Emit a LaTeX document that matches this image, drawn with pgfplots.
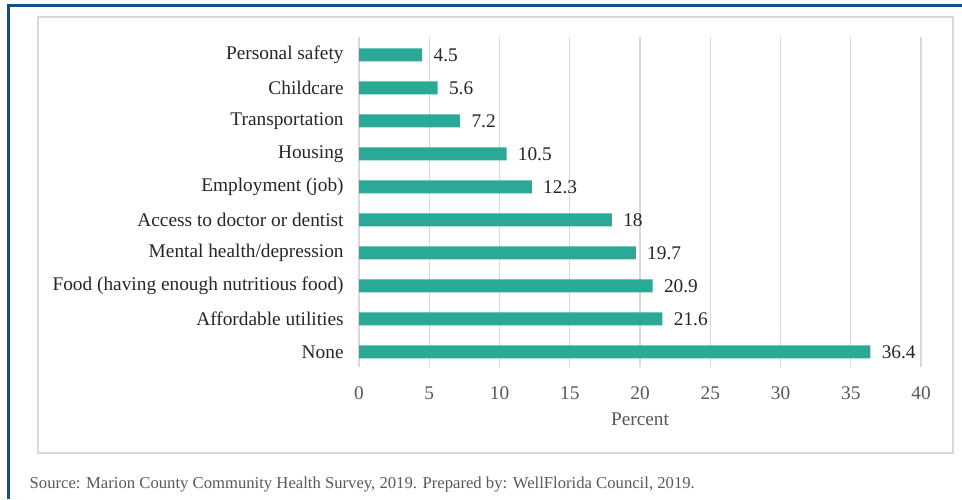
\documentclass[border=0pt]{standalone}
\usepackage{pgfplots}
\pgfplotsset{compat=1.18}
\usepackage{fontspec}
\setmainfont{Liberation Serif}
\definecolor{barteal}{HTML}{2AAA96}
\definecolor{frameblue}{HTML}{0F5189}
\definecolor{gridgray}{HTML}{D9D9D9}
\definecolor{txtgray}{HTML}{595959}
\definecolor{txtdark}{HTML}{262626}
\pgfplotstableread{
idx val
0 36.4
1 21.6
2 20.9
3 19.7
4 18
5 12.3
6 10.5
7 7.2
8 5.6
9 4.5
}\datatab
\begin{document}
\begin{tikzpicture}[x=0.75pt,y=0.75pt]
\path[use as bounding box] (0,0) rectangle (962,499);
\fill[frameblue] (7,492) rectangle (962,495);
\fill[frameblue] (7,0) rectangle (10,495);
\draw[gridgray, line width=1pt] (38,46) rectangle (953,482);
\begin{axis}[
  at={(269.25pt,99pt)}, anchor=south west,
  scale only axis, width=421.5pt, height=247.5pt,
  xbar, bar width=9.75pt,
  xmin=0, xmax=40, ymin=-0.4545, ymax=9.545,
  xtick={0,5,...,40},
  ytick={0,...,9},
  yticklabels={None,Affordable utilities,Food (having enough nutritious food),Mental health/depression,Access to doctor or dentist,Employment (job),Housing,Transportation,Childcare,Personal safety},
  axis line style={draw=none},
  major tick length=0pt,
  xmajorgrids, grid style={gridgray, line width=0.9pt},
  /pgf/number format/assume math mode=true,
  ticklabel style={font=\fontsize{14.5pt}{17pt}\selectfont},
  xticklabel style={txtgray, yshift=-11pt},
  yticklabel style={txtdark, xshift=-8pt},
  xlabel={Percent}, xlabel style={txtgray, font=\fontsize{14.5pt}{17pt}\selectfont, yshift=-3pt},
  nodes near coords,
  nodes near coords style={txtdark, font=\fontsize{14.5pt}{17pt}\selectfont, anchor=west, xshift=5pt},
  point meta=explicit,
]
\addplot[fill=barteal, draw=none] table[x=val, y=idx, meta=val] {\datatab};
\end{axis}
\node[anchor=west, txtgray, font=\fontsize{12.5pt}{15pt}\selectfont] at (25,14) {Source: Marion County Community Health Survey, 2019. Prepared by: WellFlorida Council, 2019.};
\end{tikzpicture}
\end{document}
